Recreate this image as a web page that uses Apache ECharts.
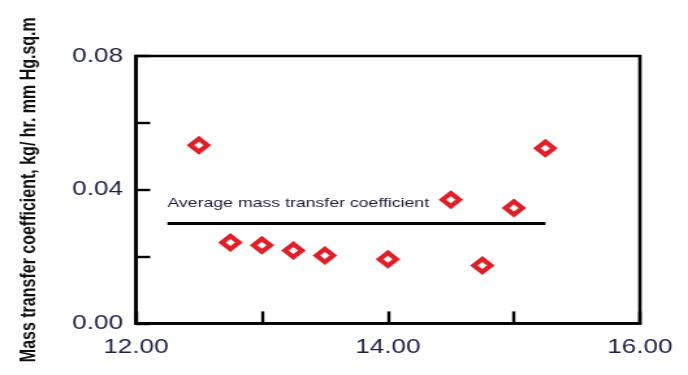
<!DOCTYPE html>
<html>
<head>
<meta charset="utf-8">
<script src="https://cdn.jsdelivr.net/npm/echarts@6/dist/echarts.min.js"></script>
<style>
  html, body { margin: 0; padding: 0; background: #fff; overflow: hidden; }
  #wrap { width: 688px; height: 375px; overflow: hidden; }
  /* the plot is laid out narrow and widened horizontally */
  #chart { width: 529px; height: 375px; transform: scaleX(1.3006); transform-origin: 0 0; }
</style>
</head>
<body>
<div id="wrap"><div id="chart"></div></div>
<script>
// measured points
const xValues = [12.5, 12.75, 13.0, 13.25, 13.5, 14.0, 14.5, 14.75, 15.0, 15.25];
const massTransfer = [0.0533, 0.0242, 0.0234, 0.0218, 0.0203, 0.0192, 0.0370, 0.0173, 0.0345, 0.0524];

// average coefficient line
const averageSpan = [12.25, 15.25];
const averageValue = 0.030;
const averageLabel = 'Average mass transfer coefficient';

// labelled ticks
const xTickLabels = [12, 14, 16];
const yTickLabels = [0, 0.04, 0.08];

const yTitle = 'Mass transfer coefficient, kg/ hr. mm Hg.sq.m';

const tickColor = '#1e2046';
const red = '#e41e26';
const near = (list, v) => list.some(t => Math.abs(t - v) < 1e-9);

const chart = echarts.init(document.getElementById('chart'), null, { renderer: 'canvas' });

chart.setOption({
  animation: false,
  backgroundColor: '#fff',
  grid: {
    left: 104.5, right: 37, top: 56, bottom: 51.6,
    containLabel: false, outerBoundsMode: 'none',
    show: true, borderColor: '#000', borderWidth: 2.6, backgroundColor: 'transparent'
  },
  xAxis: {
    type: 'value', min: 12, max: 16, interval: 1,
    axisLine: { show: true, onZero: false, lineStyle: { color: '#000', width: 2.6 } },
    axisTick: { show: true, inside: true, length: 12, lineStyle: { color: '#000', width: 2.4 } },
    axisLabel: {
      show: true, margin: 14, fontSize: 20, color: tickColor,
      fontFamily: 'Liberation Sans, Arial, sans-serif',
      showMinLabel: true, showMaxLabel: true,
      formatter: v => near(xTickLabels, v) ? v.toFixed(2) : ''
    },
    splitLine: { show: false }
  },
  yAxis: {
    type: 'value', min: 0, max: 0.08, interval: 0.02,
    axisLine: { show: true, lineStyle: { color: '#000', width: 2.6 } },
    axisTick: { show: true, inside: true, length: 11, lineStyle: { color: '#000', width: 2.4 } },
    axisLabel: {
      show: true, margin: 10, fontSize: 20, color: tickColor,
      fontFamily: 'Liberation Sans, Arial, sans-serif',
      showMinLabel: true, showMaxLabel: true,
      formatter: v => near(yTickLabels, v) ? v.toFixed(2) : ''
    },
    splitLine: { show: false },
    name: yTitle,
    nameLocation: 'middle',
    nameGap: 74,
    nameTextStyle: {
      fontSize: 16, fontWeight: 'bold', color: '#111',
      fontFamily: 'Liberation Sans, Arial, sans-serif'
    }
  },
  series: [
    {
      name: 'average',
      type: 'line',
      data: [],
      silent: true,
      markLine: {
        silent: true,
        symbol: ['none', 'none'],
        lineStyle: { color: '#000', width: 3.2, type: 'solid' },
        label: {
          show: true, position: 'insideStartTop', distance: [0, 13],
          formatter: averageLabel, fontSize: 13.6, color: '#1c1c3a',
          fontFamily: 'Liberation Sans, Arial, sans-serif'
        },
        data: [[
          { coord: [averageSpan[0], averageValue] },
          { coord: [averageSpan[1], averageValue] }
        ]]
      }
    },
    {
      name: 'coefficient',
      type: 'scatter',
      z: 5,
      symbol: 'diamond',
      symbolSize: 13,
      itemStyle: { color: '#fff', borderColor: red, borderWidth: 4.2, opacity: 1 },
      data: xValues.map((x, i) => [x, massTransfer[i]])
    }
  ]
});
</script>
</body>
</html>
